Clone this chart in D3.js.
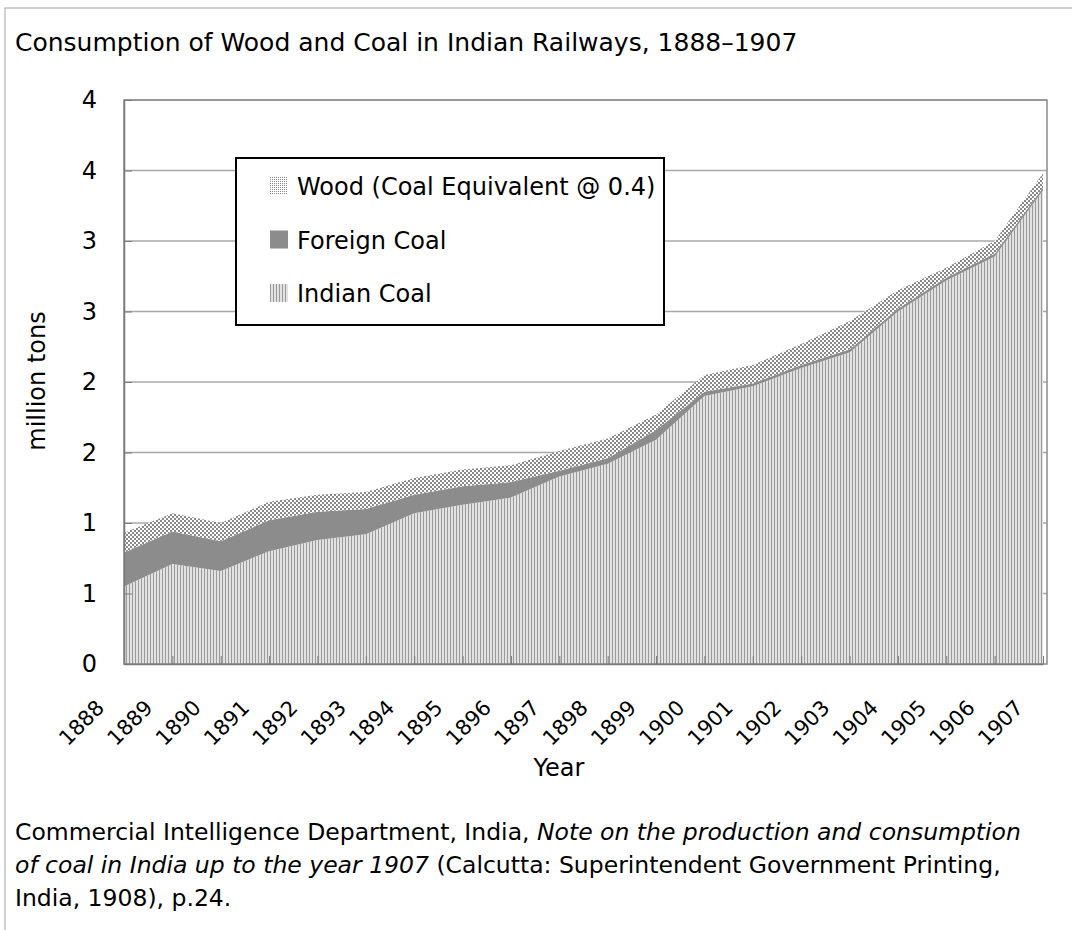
<!DOCTYPE html>
<html lang="en">

<head>
  <meta charset="UTF-8" />
  <title>Consumption of Wood and Coal in Indian Railways</title>
  <style>
    body { margin: 0; background: white; }
  </style>
</head>

<body>
  <svg id="chart" width="1072" height="930"></svg>

  <script src="https://d3js.org/d3.v7.min.js"></script>
  <script>
    // values, million tons
    const years = [1888, 1889, 1890, 1891, 1892, 1893, 1894, 1895, 1896, 1897,
      1898, 1899, 1900, 1901, 1902, 1903, 1904, 1905, 1906, 1907];
    const indianCoal = [0.55, 0.71, 0.66, 0.80, 0.88, 0.92, 1.07, 1.13, 1.18, 1.33,
      1.42, 1.59, 1.90, 1.97, 2.10, 2.21, 2.50, 2.72, 2.89, 3.36];
    const foreignCoal = [0.24, 0.23, 0.21, 0.22, 0.20, 0.18, 0.13, 0.13, 0.11, 0.04,
      0.04, 0.07, 0.03, 0.02, 0.02, 0.02, 0.02, 0.02, 0.02, 0.02];
    const wood = [0.14, 0.13, 0.13, 0.13, 0.12, 0.12, 0.12, 0.12, 0.12, 0.14,
      0.14, 0.11, 0.12, 0.13, 0.15, 0.20, 0.13, 0.07, 0.09, 0.10];
    const yTicks = [0, 0.5, 1, 1.5, 2, 2.5, 3, 3.5, 4];
    const yTickLabels = ["0", "1", "1", "2", "2", "3", "3", "4", "4"];
    const legendItems = [
      { key: "wood", label: "Wood (Coal Equivalent @ 0.4)" },
      { key: "foreign", label: "Foreign Coal" },
      { key: "indian", label: "Indian Coal" }
    ];

    const font = "'DejaVu Sans', Verdana, sans-serif";

    const svg = d3.select("#chart");

    // outer frame
    svg.append("rect")
      .attr("x", 5).attr("y", 8)
      .attr("width", 1200).attr("height", 1000)
      .attr("fill", "white")
      .attr("stroke", "#a0a0a0");

    // patterns
    const defs = svg.append("defs");
    const pIndian = defs.append("pattern")
      .attr("id", "indian").attr("patternUnits", "userSpaceOnUse")
      .attr("width", 3).attr("height", 3);
    pIndian.append("rect").attr("width", 3).attr("height", 3).attr("fill", "#e2e2e2");
    pIndian.append("rect").attr("width", 1).attr("height", 3).attr("fill", "#9a9a9a");

    const pWood = defs.append("pattern")
      .attr("id", "wood").attr("patternUnits", "userSpaceOnUse")
      .attr("width", 4).attr("height", 4);
    pWood.append("rect").attr("width", 4).attr("height", 4).attr("fill", "white");
    [[0, 0], [2, 2]].forEach(([px, py]) => {
      pWood.append("rect").attr("x", px).attr("y", py)
        .attr("width", 2).attr("height", 2).attr("fill", "#8a8a8a");
    });

    const pWoodLegend = defs.append("pattern")
      .attr("id", "woodlegend").attr("patternUnits", "userSpaceOnUse")
      .attr("width", 2).attr("height", 2);
    pWoodLegend.append("rect").attr("width", 2).attr("height", 2).attr("fill", "white");
    pWoodLegend.append("rect").attr("width", 1).attr("height", 1).attr("fill", "#8a8a8a");

    const fills = { indian: "url(#indian)", foreign: "#8c8c8c", wood: "url(#wood)" };
    const legendFills = { indian: "url(#indian)", foreign: "#8c8c8c", wood: "url(#woodlegend)" };

    // title
    svg.append("text")
      .attr("x", 15).attr("y", 51)
      .attr("font-family", font).attr("font-size", 25)
      .text("Consumption of Wood and Coal in Indian Railways, 1888\u20131907");

    const plotLeft = 124, plotRight = 1047, plotTop = 100, plotBottom = 664;

    const x = d3.scalePoint().domain(years).range([plotLeft, 1043]);
    const y = d3.scaleLinear().domain([0, 4]).range([plotBottom, plotTop]);

    const table = years.map((yr, i) => ({
      year: yr, indian: indianCoal[i], foreign: foreignCoal[i], wood: wood[i]
    }));
    const series = d3.stack().keys(["indian", "foreign", "wood"])(table);

    // gridlines
    svg.append("g")
      .selectAll("line")
      .data(yTicks.slice(1))
      .enter()
      .append("line")
      .attr("x1", plotLeft).attr("x2", plotRight)
      .attr("y1", (d) => y(d)).attr("y2", (d) => y(d))
      .attr("stroke", "#a8a8a8").attr("stroke-width", 1.5);

    const area = d3.area()
      .x((d) => x(d.data.year))
      .y0((d) => y(d[0]))
      .y1((d) => y(d[1]));

    svg.append("g")
      .selectAll("path")
      .data(series)
      .enter()
      .append("path")
      .attr("d", area)
      .attr("fill", (d) => fills[d.key]);

    // plot border
    svg.append("rect")
      .attr("x", plotLeft).attr("y", plotTop)
      .attr("width", plotRight - plotLeft).attr("height", plotBottom - plotTop)
      .attr("fill", "none")
      .attr("stroke", "#8a8a8a").attr("stroke-width", 1.5);

    // y axis
    const yAxis = svg.append("g")
      .attr("transform", `translate(${plotLeft},0)`)
      .call(d3.axisLeft(y)
        .tickValues(yTicks)
        .tickFormat((d, i) => yTickLabels[i])
        .tickSizeInner(-8).tickSizeOuter(0).tickPadding(27));
    yAxis.select(".domain").attr("stroke", "#7a7a7a").attr("stroke-width", 1.5);
    yAxis.selectAll(".tick line").attr("stroke", "#7a7a7a");
    yAxis.selectAll("text")
      .attr("font-family", font).attr("font-size", 24).attr("fill", "#000");

    // x axis
    const xAxis = svg.append("g")
      .attr("transform", `translate(0,${plotBottom})`)
      .call(d3.axisBottom(x).tickSizeInner(-8).tickSizeOuter(0));
    xAxis.select(".domain").attr("stroke", "#7a7a7a").attr("stroke-width", 1.5);
    xAxis.selectAll(".tick line").attr("stroke", "#7a7a7a");
    xAxis.selectAll("text")
      .attr("font-family", font).attr("font-size", 21).attr("fill", "#000")
      .attr("x", -19).attr("y", 45).attr("dy", 0)
      .attr("text-anchor", "end")
      .attr("transform", "rotate(-45,-19,45)");

    // axis titles
    svg.append("text")
      .attr("x", 559).attr("y", 776)
      .attr("text-anchor", "middle")
      .attr("font-family", font).attr("font-size", 24)
      .text("Year");

    svg.append("text")
      .attr("transform", "translate(45,381) rotate(-90)")
      .attr("text-anchor", "middle")
      .attr("font-family", font).attr("font-size", 24)
      .text("million tons");

    // legend
    const legend = svg.append("g");
    legend.append("rect")
      .attr("x", 236).attr("y", 158)
      .attr("width", 428).attr("height", 167)
      .attr("fill", "white")
      .attr("stroke", "#000").attr("stroke-width", 2);

    const row = legend.selectAll(".item")
      .data(legendItems)
      .enter()
      .append("g")
      .attr("class", "item")
      .attr("transform", (d, i) => `translate(270,${177 + i * 53.5})`);
    row.append("rect")
      .attr("width", 18).attr("height", 18)
      .attr("fill", (d) => legendFills[d.key]);
    row.append("text")
      .attr("x", 27).attr("y", 18)
      .attr("font-family", font).attr("font-size", 24)
      .text((d) => d.label);

    // source note
    const note = svg.append("text")
      .attr("font-family", font).attr("font-size", 23.5);
    const l1 = note.append("tspan").attr("x", 15).attr("y", 840);
    l1.append("tspan").text("Commercial Intelligence Department, India, ");
    l1.append("tspan").attr("font-style", "italic").text("Note on the production and consumption");
    const l2 = note.append("tspan").attr("x", 15).attr("y", 873);
    l2.append("tspan").attr("font-style", "italic").text("of coal in India up to the year 1907");
    l2.append("tspan").text(" (Calcutta: Superintendent Government Printing,");
    note.append("tspan").attr("x", 15).attr("y", 906).text("India, 1908), p.24.");
  </script>
</body>

</html>
